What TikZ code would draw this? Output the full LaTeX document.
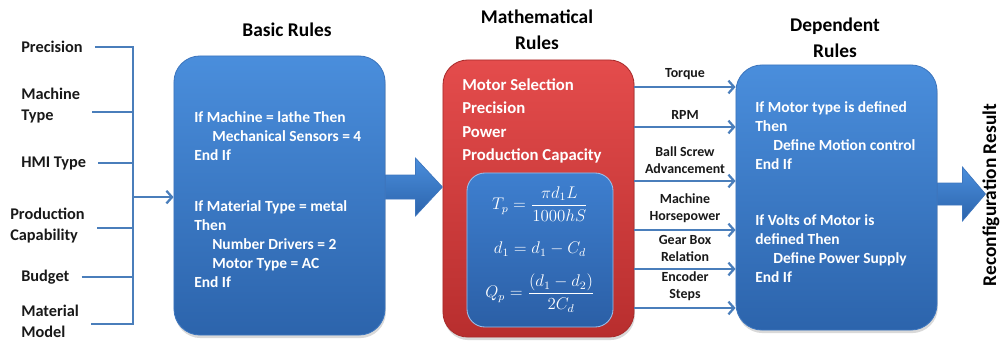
\documentclass[tikz,border=0pt]{standalone}
\usepackage{fontspec}
\setmainfont{Carlito}
\usetikzlibrary{arrows.meta,shadows,calc}
\definecolor{lineblue}{HTML}{4A7EBB}
\definecolor{boxtop}{HTML}{4A8EDC}
\definecolor{boxbot}{HTML}{2C64AC}
\definecolor{boxedge}{HTML}{3D76BE}
\definecolor{innertop}{HTML}{3E7FCF}
\definecolor{innerbot}{HTML}{2B5FA6}
\definecolor{redtop}{HTML}{E44C4C}
\definecolor{redbot}{HTML}{B82E2E}
\definecolor{rededge}{HTML}{A92B2B}
\begin{document}
\begin{tikzpicture}[x=0.025cm,y=-0.025cm,font=\bfseries,
  bluebox/.style={draw=boxedge,line width=0.6pt,top color=boxtop,bottom color=boxbot,
    drop shadow={shadow xshift=0.6pt,shadow yshift=-2.2pt,opacity=0.3}},
  redbox/.style={draw=rededge,line width=0.6pt,top color=redtop,bottom color=redbot,
    drop shadow={shadow xshift=0.6pt,shadow yshift=-2.2pt,opacity=0.3}},
  innerbox/.style={draw=boxtop!55!white,line width=0.6pt,top color=innertop,bottom color=innerbot,rounded corners=0.45cm},
  header/.style={font=\fontsize{13.8}{18.5}\selectfont\bfseries,align=center,text=black},
  leftlab/.style={font=\fontsize{11.6}{15}\selectfont\bfseries,align=left,inner sep=0pt,anchor=west,text=black!90},
  boxtext/.style={font=\fontsize{11}{13.5}\selectfont\bfseries,align=left,inner sep=0pt,anchor=north west,text=white},
  redtext/.style={font=\fontsize{11.9}{16.8}\selectfont\bfseries,align=left,inner sep=0pt,anchor=north west,text=white},
  rlab/.style={font=\fontsize{9.9}{12}\selectfont\bfseries,align=center,text=black!90,inner sep=1.5pt,above=3pt},
  bus/.style={draw=lineblue,line width=1.8pt},
  conn/.style={draw=lineblue,line width=1.6pt,-{Straight Barb[length=4pt,width=9pt]}},
  bigarrow/.style={draw=boxedge,line width=0.5pt,top color=boxtop,bottom color=boxbot},
  formula/.style={text=white,font=\fontsize{12}{14}\selectfont}
]
\useasboundingbox (0,0) rectangle (1000,341);

% headers
\node[header] (h1) at (287,30) {Basic Rules};
\node[header] (h2) at (537,30) {Mathematical\\Rules};
\node[header] (h3) at (835,38) {Dependent\\Rules};

% boxes
\node[bluebox,rounded corners=0.65cm,minimum width=5.275cm,minimum height=6.975cm] (b1) at (279.5,195.5) {};
\node[redbox,rounded corners=0.62cm,minimum width=4.775cm,minimum height=6.925cm] (r) at (538.5,198.5) {};
\node[innerbox,minimum width=3.65cm,minimum height=3.85cm] (ib) at (540,250) {};
\node[bluebox,rounded corners=0.65cm,minimum width=5.025cm,minimum height=6.625cm] (b3) at (836.5,197.5) {};

% box texts
\node[boxtext] (t1) at (194,111) {If Machine = lathe Then\\
\hspace*{12.8pt}Mechanical Sensors = 4\\
End If\\[22.8pt]
If Material Type = metal\\
Then\\
\hspace*{12.8pt}Number Drivers = 2\\
\hspace*{12.8pt}Motor Type = AC\\
End If};

\node[redtext] (t2) at (462,78) {Motor Selection\\Precision\\Power\\Production Capacity};

\node[formula] (f1) at (540,204) {$\displaystyle T_p=\frac{\pi d_1L}{1000hS}$};
\node[formula] (f2) at (540,249) {$d_1=d_1-C_d$};
\node[formula] (f3) at (540,293) {$\displaystyle Q_p=\frac{(d_1-d_2)}{2C_d}$};

\node[boxtext] (t3) at (755,101) {If Motor type is defined\\
Then\\
\hspace*{12.8pt}Define Motion control\\
End If\\[26.5pt]
If Volts of Motor is\\
defined Then\\
\hspace*{12.8pt}Define Power Supply\\
End If};

% left labels
\node[leftlab] (l1) at (21,47) {Precision};
\node[leftlab] (l2) at (21,105.5) {Machine\\Type};
\node[leftlab] (l3) at (21,163) {HMI Type};
\node[leftlab] (l4) at (10,225.5) {Production\\Capability};
\node[leftlab] (l5) at (21,277) {Budget};
\node[leftlab] (l6) at (21,321) {Material\\Model};

\coordinate (busx) at (133,0);
\draw[bus] ([xshift=0.3cm]l1.east) -- (l1.east -| busx) -- ([yshift=-0.07cm]l6.east -| busx) -- ([xshift=0.3cm,yshift=-0.07cm]l6.east);
\draw[bus] ([xshift=0.3cm,yshift=-0.16cm]l2.east) -- ([yshift=-0.16cm]l2.east -| busx);
\draw[bus] ([xshift=0.3cm]l3.east) -- (l3.east -| busx);
\draw[bus] ([xshift=0.3cm,yshift=-0.06cm]l4.east) -- ([yshift=-0.06cm]l4.east -| busx);
\draw[bus] ([xshift=0.3cm]l5.east) -- (l5.east -| busx);
\draw[conn] ([yshift=-0.04cm]b1.west -| busx) -- ([yshift=-0.04cm]b1.west);

% right connectors
\coordinate (y1) at (0,87);
\coordinate (y2) at (0,127);
\coordinate (y3) at (0,181);
\coordinate (y4) at (0,230);
\coordinate (y5) at (0,269);
\coordinate (y6) at (0,308);
\draw[conn] (r.east |- y1) -- node[rlab] (c1) {Torque} (b3.west |- y1);
\draw[conn] (r.east |- y2) -- node[rlab] (c2) {RPM} (b3.west |- y2);
\draw[conn] (r.east |- y3) -- node[rlab] (c3) {Ball Screw\\Advancement} (b3.west |- y3);
\draw[conn] (r.east |- y4) -- node[rlab] (c4) {Machine\\Horsepower} (b3.west |- y4);
\draw[conn] (r.east |- y5) -- node[rlab] (c5) {Gear Box\\Relation} (b3.west |- y5);
\draw[conn] (r.east |- y6) -- node[rlab] (c6) {Encoder\\Steps} (b3.west |- y6);

% big arrows
\coordinate (a1) at (b1.east |- 0,187);
\path[bigarrow] (a1) ++(0,-12) -- ++(30,0) -- ++(0,-17) -- ++(27,29) -- ++(-27,29) -- ++(0,-17) -- ++(-30,0) -- cycle;
\coordinate (a3) at (b3.east |- 0,194);
\path[bigarrow] (a3) ++(0,-11) -- ++(25,0) -- ++(0,-16) -- ++(23,27) -- ++(-23,27) -- ++(0,-16) -- ++(-25,0) -- cycle;

\node[header,rotate=90] (res) at (991,195) {Reconfiguration Result};
\end{tikzpicture}
\end{document}
